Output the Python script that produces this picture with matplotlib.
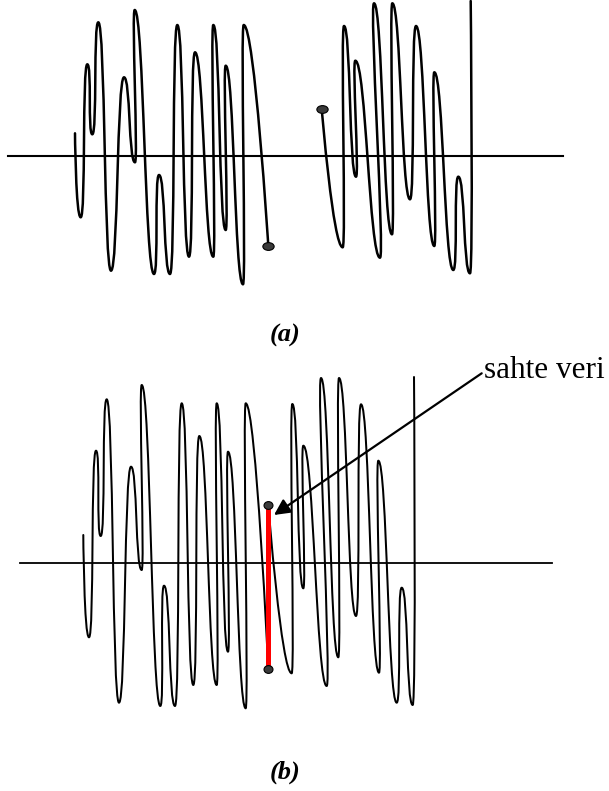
import matplotlib.pyplot as plt
from matplotlib.path import Path
from matplotlib.patches import PathPatch
from matplotlib.markers import MarkerStyle
from matplotlib.transforms import Affine2D

# panel (a): turning points of the two pieces (time, amplitude)
a_left_t = [75, 80.7, 87.3, 92.3, 98.3, 111, 124, 135, 134.7, 154, 159, 170, 177.3,
            189, 195, 213.3, 213.3, 225.7, 225.7, 243, 243.7, 268.3]
a_left_v = [22.7, -61.3, 91.7, 21.7, 133.7, -114.7, 78.7, -6.3, 146, -118, -19, -118, 131,
            -100.7, 103.7, -100.7, 131, -74, 90.3, -128.3, 131, -89.7]
a_right_t = [321.7, 342.7, 344, 356, 355.3, 380, 374, 392, 392.3, 410, 416, 434.3, 434.3,
             453.3, 458.3, 470, 470.7]
a_right_v = [47.3, -91.3, 130, -20.7, 95.3, -101.7, 152.7, -78.3, 152.7, -43.3, 130, -90, 83.7,
             -114, -20.7, -117.3, 155]

# panel (b): same signal, gap closed by the fake segment
b_left_t = [83.3, 89, 96, 100.7, 106.7, 119, 131, 141.7, 141.7, 160.3, 164, 175, 181.7,
            193.3, 199.3, 216.7, 216.7, 228, 228, 245.7, 245.7, 268.3]
b_left_v = [28, -74.3, 112.3, 27, 163.7, -139.7, 96.3, -7, 178, -143, -22.7, -143, 159.7,
            -122, 127, -122, 159.7, -88.7, 111.3, -145.3, 159.7, -106.3]
b_right_t = [268.3, 291.7, 292.3, 303.3, 303.3, 326.7, 321, 338.3, 339, 356, 361, 379,
             378.3, 396.7, 401.7, 412.7, 414]
b_right_v = [58, -110.3, 159, -25.3, 117.3, -123, 185, -94.3, 185, -53, 158.7, -109.7,
             102.3, -139.7, -24.7, -142, 186]

a_axis = (8, 563)
b_axis = (20, 552)
label_text = "sahte veri"

W, H = 609, 791


def wave(ax, ts, vs, lw, c=3.2, k=0.3):
    verts = [(ts[0], vs[0])]
    codes = [Path.MOVETO]
    n = len(ts)
    for i in range(n - 1):
        h = c + k * abs(ts[i + 1] - ts[i])
        h0 = 0 if i == 0 else h
        h1 = 0 if i + 1 == n - 1 else h
        verts += [(ts[i] + h0, vs[i]), (ts[i + 1] - h1, vs[i + 1]), (ts[i + 1], vs[i + 1])]
        codes += [Path.CURVE4] * 3
    ax.add_patch(PathPatch(Path(verts, codes), fill=False, lw=lw, color='black',
                           capstyle='round', joinstyle='round'))


def dot(ax, t, v, stretch, ms):
    m = MarkerStyle('o', transform=Affine2D().scale(stretch, 1.0))
    ax.plot([t], [v], marker=m, ms=ms, mfc='#3a3a3a', mec='black', mew=0.8,
            ls='none', zorder=5)


fig = plt.figure(figsize=(W / 100, H / 100), dpi=100)

# (a)
ax_a = fig.add_axes([0, 1 - 300 / H, 1, 300 / H])
ax_a.set_xlim(0, W)
ax_a.set_ylim(-144, 156)
ax_a.axis('off')
ax_a.plot(a_axis, [0, 0], color='black', lw=1.5)
wave(ax_a, a_left_t, a_left_v, 1.8)
wave(ax_a, a_right_t, a_right_v, 1.8)
dot(ax_a, a_left_t[-1], a_left_v[-1], 1.45, 5.6)
dot(ax_a, a_right_t[0], a_right_v[0], 1.45, 5.6)

# (b)
ax_b = fig.add_axes([0, 1 - 730 / H, 1, 360 / H])
ax_b.set_xlim(0, W)
ax_b.set_ylim(-167, 193)
ax_b.axis('off')
ax_b.plot(b_axis, [0, 0], color='black', lw=1.3)
wave(ax_b, b_left_t, b_left_v, 1.45)
wave(ax_b, b_right_t, b_right_v, 1.45)
ax_b.plot([b_left_t[-1], b_right_t[0]], [b_left_v[-1], b_right_v[0]],
          color='#ff0000', lw=3.6, solid_capstyle='butt', zorder=4)
dot(ax_b, b_left_t[-1], b_left_v[-1], 1.15, 5.6)
dot(ax_b, b_right_t[0], b_right_v[0], 1.15, 5.6)

ax_b.annotate('', xy=(274, 48), xytext=(481.7, 189.7),
              arrowprops=dict(arrowstyle='-|>', color='black', lw=1.6,
                              mutation_scale=24, shrinkA=0, shrinkB=0))
ax_b.text(484, 185, label_text, fontsize=22.5, family='Liberation Serif',
          ha='left', va='baseline')

fig.text(285 / W, 1 - 335 / H, '(a)', fontsize=19, family='Liberation Serif',
         weight='bold', style='italic', ha='center', va='center')
fig.text(285 / W, 1 - 772 / H, '(b)', fontsize=19, family='Liberation Serif',
         weight='bold', style='italic', ha='center', va='center')

fig.savefig('out.png', dpi=100, facecolor='white')
